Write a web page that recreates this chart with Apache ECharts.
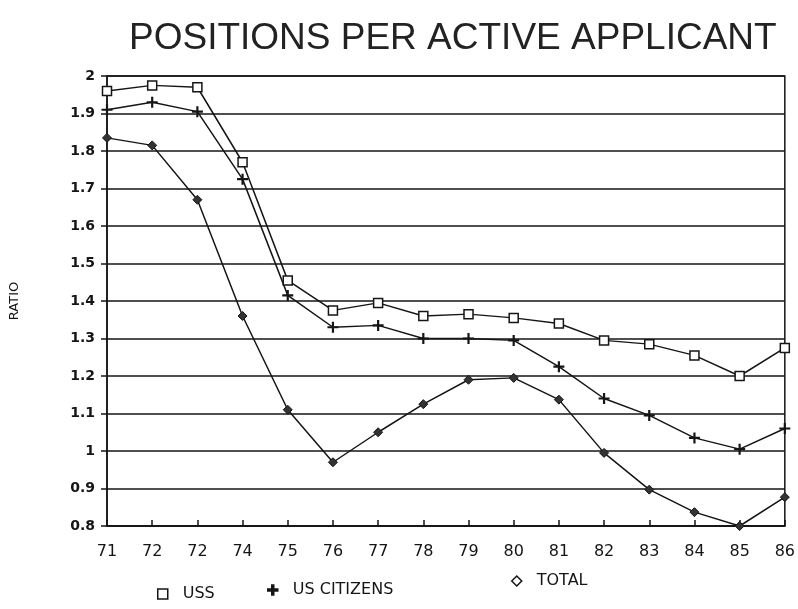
<!DOCTYPE html>
<html>
<head>
<meta charset="utf-8">
<title>Positions per active applicant</title>
<script src="https://cdn.jsdelivr.net/npm/echarts@6/dist/echarts.min.js"></script>
<style>
  html, body { margin: 0; padding: 0; background: #fff; }
  #chart { width: 798px; height: 609px; }
</style>
</head>
<body>
<div id="chart"></div>
<script>
// year labels as printed on the original (73 is printed as "72")
var years = ['71', '72', '72', '74', '75', '76', '77', '78', '79', '80', '81', '82', '83', '84', '85', '86'];

var uss = [1.96, 1.975, 1.97, 1.77, 1.455, 1.375, 1.395, 1.36, 1.365, 1.355, 1.34, 1.295, 1.285, 1.255, 1.20, 1.275];
var usCitizens = [1.91, 1.93, 1.905, 1.725, 1.415, 1.33, 1.335, 1.30, 1.30, 1.295, 1.225, 1.14, 1.095, 1.035, 1.005, 1.06];
var total = [1.835, 1.815, 1.67, 1.36, 1.11, 0.97, 1.05, 1.125, 1.19, 1.195, 1.137, 0.995, 0.897, 0.837, 0.80, 0.877];

var ink = '#151515';
var plus = 'path://M4,0H6V4H10V6H6V10H4V6H0V4H4Z';

var chart = echarts.init(document.getElementById('chart'));

function legendAt(name, left, top, icon, fill) {
  return {
    left: left,
    top: top,
    itemWidth: 10,
    itemHeight: 10,
    itemGap: 0,
    textStyle: { fontFamily: 'DejaVu Sans', fontSize: 16, color: ink, padding: [0, 0, 0, 10] },
    data: [{
      name: name,
      icon: icon,
      itemStyle: { color: fill, borderColor: ink, borderWidth: 1.5 }
    }]
  };
}

chart.setOption({
  backgroundColor: '#fff',
  animation: false,
  title: {
    text: 'POSITIONS PER ACTIVE APPLICANT',
    left: 124,
    top: 15,
    textStyle: { fontFamily: 'Liberation Sans', fontSize: 37, fontWeight: 'normal', color: '#222' }
  },
  legend: [
    legendAt('USS', 152, 581, 'rect', '#fff'),
    legendAt('US CITIZENS', 262, 577, plus, ink),
    legendAt('TOTAL', 506, 568, 'diamond', '#fff')
  ],
  grid: {
    left: 106, right: 13, top: 76, bottom: 83,
    show: true,
    borderColor: ink,
    borderWidth: 1.5,
    backgroundColor: 'transparent'
  },
  xAxis: {
    type: 'category',
    data: years,
    boundaryGap: false,
    axisLine: { lineStyle: { color: ink, width: 1.5 } },
    axisTick: { inside: true, length: 6, lineStyle: { color: ink, width: 1.5 } },
    axisLabel: { fontFamily: 'DejaVu Sans', fontSize: 16, color: ink, margin: 18 },
    splitLine: { show: false }
  },
  yAxis: {
    type: 'value',
    min: 0.8,
    max: 2,
    interval: 0.1,
    name: 'RATIO',
    nameLocation: 'middle',
    nameRotate: 90,
    nameGap: 86,
    nameTextStyle: { fontFamily: 'DejaVu Sans', fontSize: 13, color: ink },
    axisLine: { show: true, lineStyle: { color: ink, width: 1.5 } },
    axisTick: { show: true, length: 6, lineStyle: { color: ink, width: 1.5 } },
    axisLabel: {
      fontFamily: 'DejaVu Sans', fontSize: 14, fontWeight: 'bold', color: ink, margin: 12,
      formatter: function (v) { return String(Math.round(v * 10) / 10); }
    },
    splitLine: { show: true, lineStyle: { color: ink, width: 1.5 } }
  },
  series: [
    {
      name: 'USS',
      type: 'line',
      data: uss,
      symbol: 'rect',
      symbolSize: 9,
      lineStyle: { color: ink, width: 1.5 },
      itemStyle: { color: '#fff', borderColor: ink, borderWidth: 1.5 }
    },
    {
      name: 'US CITIZENS',
      type: 'line',
      data: usCitizens,
      symbol: plus,
      symbolSize: 11,
      lineStyle: { color: ink, width: 1.5 },
      itemStyle: { color: ink }
    },
    {
      name: 'TOTAL',
      type: 'line',
      data: total,
      symbol: 'diamond',
      symbolSize: 9,
      lineStyle: { color: ink, width: 1.5 },
      itemStyle: { color: '#333', borderColor: ink, borderWidth: 1 }
    }
  ]
});
</script>
</body>
</html>
